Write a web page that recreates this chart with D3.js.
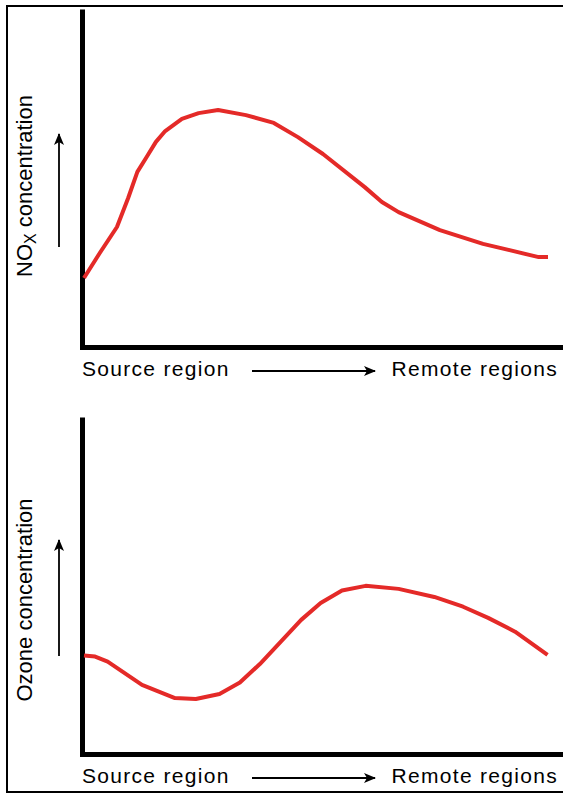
<!DOCTYPE html>
<html>
<head>
<meta charset="utf-8">
<script src="https://cdn.jsdelivr.net/npm/d3@7"></script>
<style>
  html, body { margin: 0; padding: 0; background: #fff; }
  svg text { font-family: "Liberation Sans", Arial, Helvetica, sans-serif; fill: #000; }
</style>
</head>
<body>
<div id="chart"></div>
<script>
// ---- data (distance from source: 0..100, concentration: 0..100 arbitrary units) ----
const noxX = [0, 3.4, 7.1, 9.5, 11.5, 13.5, 15.5, 17.5, 21.1, 24.7, 28.9, 34.9, 40.9, 46.1, 51.5, 60.5, 64.2, 67.8, 76.7, 86.0, 98.0, 100];
const noxY = [20.4, 27.8, 35.5, 44.0, 51.8, 56.2, 60.7, 63.9, 67.5, 69.2, 70.1, 68.6, 66.3, 62.1, 57.1, 47.3, 42.9, 39.9, 34.6, 30.5, 26.6, 26.6];

const ozoneX = [0, 2.4, 5.1, 12.5, 19.6, 24.1, 29.2, 33.6, 37.9, 46.8, 51.0, 55.6, 60.7, 67.8, 75.5, 81.7, 87.1, 92.9, 99.9];
const ozoneY = [29.2, 28.9, 27.4, 20.5, 16.6, 16.3, 17.8, 21.2, 26.7, 39.8, 44.8, 48.5, 49.9, 49.0, 46.6, 43.7, 40.4, 36.3, 29.4];

const xLabelLeft = "Source region";
const xLabelRight = "Remote regions";
const panelLabels = ["concentration", "Ozone concentration"];

// ---- drawing ----
const W = 563, H = 794;
const svg = d3.select("#chart").append("svg").attr("width", W).attr("height", H);

const defs = svg.append("defs");
defs.append("marker")
  .attr("id", "arr").attr("viewBox", "0 0 12 10")
  .attr("refX", 11).attr("refY", 5)
  .attr("markerWidth", 12).attr("markerHeight", 10)
  .attr("markerUnits", "userSpaceOnUse")
  .attr("orient", "auto")
  .append("path").attr("d", "M0,0 L12,5 L0,10 L3,5 Z").attr("fill", "#000");

// outer frame
svg.append("rect").attr("x", 7).attr("y", 6).attr("width", 570).attr("height", 786)
  .attr("fill", "none").attr("stroke", "#000").attr("stroke-width", 2);

const panels = [
  { xs: noxX, ys: noxY, axisY: 347, topY: 9, nox: true },
  { xs: ozoneX, ys: ozoneY, axisY: 754, topY: 417, nox: false }
];

panels.forEach((p, i) => {
  const g = svg.append("g");
  const x = d3.scaleLinear().domain([0, 100]).range([84, 548]);
  const y = d3.scaleLinear().domain([0, 100]).range([p.axisY, p.topY]);

  // axes (no ticks), thick domain lines
  const xAxisScale = d3.scaleLinear().domain([0, 1]).range([79.5, 566]);
  const yAxisScale = d3.scaleLinear().domain([0, 1]).range([p.axisY + 2.5, p.topY]);
  g.append("g").attr("transform", `translate(0,${p.axisY})`)
    .call(d3.axisBottom(xAxisScale).tickValues([]).tickSizeOuter(0))
    .call(a => a.select(".domain").attr("stroke", "#000").attr("stroke-width", 5));
  g.append("g").attr("transform", `translate(82,0)`)
    .call(d3.axisLeft(yAxisScale).tickValues([]).tickSizeOuter(0))
    .call(a => a.select(".domain").attr("stroke", "#000").attr("stroke-width", 5));

  // curve
  const pts = p.xs.map((v, k) => [v, p.ys[k]]);
  g.append("path").datum(pts)
    .attr("d", d3.line().x(d => x(d[0])).y(d => y(d[1])).curve(d3.curveLinear))
    .attr("fill", "none").attr("stroke", "#e42a28").attr("stroke-width", 4)
    .attr("stroke-linejoin", "round").attr("stroke-linecap", "butt");

  // x labels + arrow
  const by = p.axisY + 29;
  g.append("text").attr("x", 82).attr("y", by).attr("font-size", 21)
    .attr("letter-spacing", 1.3).text(xLabelLeft);
  g.append("text").attr("x", 558).attr("y", by).attr("font-size", 21)
    .attr("letter-spacing", 1.3).attr("text-anchor", "end").text(xLabelRight);
  g.append("line").attr("x1", 252).attr("x2", 375).attr("y1", by - 5).attr("y2", by - 5)
    .attr("stroke", "#000").attr("stroke-width", 1.8).attr("marker-end", "url(#arr)");

  // y label (rotated)
  const cy = p.nox ? 186 : 600;
  const t = g.append("text").attr("transform", `translate(32,${cy}) rotate(-90)`)
    .attr("text-anchor", "middle").attr("font-size", 22);
  if (p.nox) {
    t.append("tspan").text("NO");
    t.append("tspan").attr("font-size", 16).attr("dy", 4).text("X");
    t.append("tspan").attr("dy", -4).text(" " + panelLabels[0]);
  } else {
    t.text(panelLabels[1]);
  }

  // vertical arrow
  const ay1 = p.nox ? 247 : 656, ay2 = p.nox ? 134 : 540;
  g.append("line").attr("x1", 59).attr("x2", 59).attr("y1", ay1).attr("y2", ay2)
    .attr("stroke", "#000").attr("stroke-width", 1.8).attr("marker-end", "url(#arr)");
});
</script>
</body>
</html>
